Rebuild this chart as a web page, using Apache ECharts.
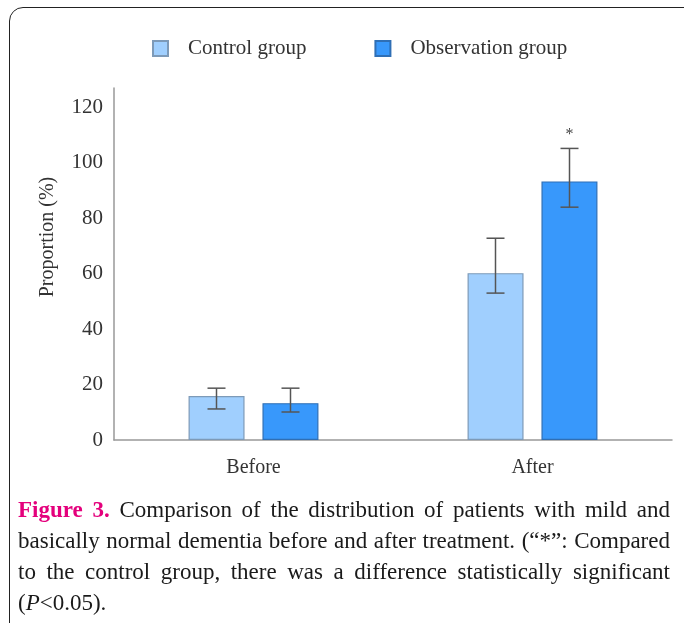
<!DOCTYPE html>
<html>
<head>
<meta charset="utf-8">
<script src="https://cdn.jsdelivr.net/npm/echarts@6/dist/echarts.min.js"></script>
<style>
  html, body { margin: 0; padding: 0; background: #fff; }
  #wrap { position: relative; width: 684px; height: 623px; overflow: hidden; }
  #chart { position: absolute; left: 0; top: 0; width: 684px; height: 490px; }
  #frame {
    position: absolute; left: 9px; top: 7px; width: 700px; height: 628px;
    border: 1.5px solid #222; border-radius: 14px; pointer-events: none;
  }
  #caption {
    position: absolute; left: 18px; top: 494px; width: 652px;
    font-family: "Liberation Serif", "DejaVu Serif", serif;
    font-size: 23px; line-height: 31px; color: #1a1a1a;
  }
  #caption span { display: block; white-space: nowrap; text-align: justify; text-align-last: justify; }
  #caption span.last { text-align-last: left; }
  #caption b { color: #e4007c; }
</style>
</head>
<body>
<div id="wrap">
  <div id="chart"></div>
  <div id="frame"></div>
  <div id="caption">
    <span><b>Figure 3.</b> Comparison of the distribution of patients with mild and</span>
    <span>basically normal dementia before and after treatment. (“*”: Compared</span>
    <span>to the control group, there was a difference statistically significant</span>
    <span class="last">(<i>P</i>&lt;0.05).</span>
  </div>
</div>
<script>
var categories = ["Before", "After"];
var seriesNames = ["Control group", "Observation group"];

/* 均值及误差上下限 */
var controlMean = [15.9, 60.2];
var controlLow = [11.2, 53.0];
var controlHigh = [18.7, 72.8];
var observationMean = [13.3, 93.3];
var observationLow = [10.1, 84.0];
var observationHigh = [18.7, 105.2];
var observationMarks = ["", "*"];

var yTicks = [0, 20, 40, 60, 80, 100, 120];

var serif = "Liberation Serif";

function errorData(low, high) {
  return low.map(function (v, i) {
    return [i, v, high[i]];
  });
}

function errorRenderer(offset, marks) {
  return function (params, api) {
    var x = api.coord([api.value(0), 0])[0] + offset;
    var yLo = api.coord([api.value(0), api.value(1)])[1];
    var yHi = api.coord([api.value(0), api.value(2)])[1];
    var cap = 9;
    var style = { stroke: "#555", lineWidth: 1.5 };
    var children = [
      { type: "line", shape: { x1: x, y1: yHi, x2: x, y2: yLo }, style: style },
      { type: "line", shape: { x1: x - cap, y1: yHi, x2: x + cap, y2: yHi }, style: style },
      { type: "line", shape: { x1: x - cap, y1: yLo, x2: x + cap, y2: yLo }, style: style }
    ];
    var mark = marks && marks[params.dataIndex];
    if (mark) {
      children.push({
        type: "text",
        style: {
          text: mark, x: x, y: yHi - 14, align: "center", verticalAlign: "middle",
          fill: "#444", font: "16px " + serif
        }
      });
    }
    return { type: "group", children: children };
  };
}

var chart = echarts.init(document.getElementById("chart"));

chart.setOption({
  animation: false,
  backgroundColor: "#fff",
  legend: {
    data: seriesNames,
    left: 147,
    top: 33,
    icon: "rect",
    itemWidth: 15,
    itemHeight: 15,
    itemGap: 68,
    textStyle: {
      fontFamily: serif,
      fontSize: 21,
      color: "#333",
      padding: [0, 0, 0, 15]
    }
  },
  grid: {
    left: 114,
    right: 12,
    top: 88,
    bottom: 50
  },
  graphic: [
    {
      type: "text",
      x: 48,
      y: 237,
      rotation: Math.PI / 2,
      style: {
        text: "Proportion (%)",
        font: "20px " + serif,
        fill: "#333",
        align: "center",
        verticalAlign: "middle"
      }
    }
  ],
  xAxis: {
    type: "category",
    data: categories,
    axisTick: { show: false },
    axisLine: { lineStyle: { color: "#999", width: 1.5 } },
    axisLabel: {
      margin: 18,
      fontFamily: serif,
      fontSize: 20,
      color: "#333"
    }
  },
  yAxis: {
    type: "value",
    min: 0,
    max: 127,
    interval: 20,
    splitLine: { show: false },
    axisTick: { show: false },
    axisLine: { show: true, lineStyle: { color: "#999", width: 1.5 } },
    axisLabel: {
      margin: 11,
      fontFamily: serif,
      fontSize: 21,
      color: "#333",
      padding: [0, 0, 20, 0],
      formatter: function (v) {
        return yTicks.indexOf(v) >= 0 ? String(v) : "";
      }
    }
  },
  series: [
    {
      name: seriesNames[0],
      type: "bar",
      data: controlMean,
      barWidth: 56,
      barGap: "32%",
      itemStyle: { color: "#a0cffe", borderColor: "#7d9ab8", borderWidth: 1.2 }
    },
    {
      name: seriesNames[1],
      type: "bar",
      data: observationMean,
      barWidth: 56,
      barGap: "32%",
      itemStyle: { color: "#3898fb", borderColor: "#2f6fb5", borderWidth: 1.2 }
    },
    {
      type: "custom",
      renderItem: errorRenderer(-37),
      data: errorData(controlLow, controlHigh),
      encode: { x: 0, y: [1, 2] },
      z: 5
    },
    {
      type: "custom",
      renderItem: errorRenderer(37, observationMarks),
      data: errorData(observationLow, observationHigh),
      encode: { x: 0, y: [1, 2] },
      z: 5
    }
  ]
});
</script>
</body>
</html>
